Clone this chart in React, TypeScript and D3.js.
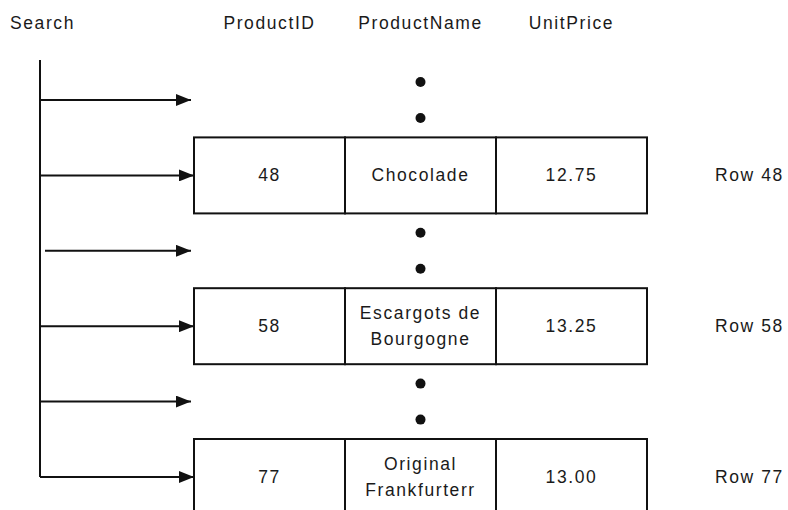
import React from 'react';
import * as d3 from 'd3';

// table columns and rows shown in the index diagram
const columns = ['ProductID', 'ProductName', 'UnitPrice'];
const productIds = ['48', '58', '77'];
const productNames = [['Chocolade'], ['Escargots de', 'Bourgogne'], ['Original', 'Frankfurterr']];
const unitPrices = ['12.75', '13.25', '13.00'];
const rowLabels = ['Row 48', 'Row 58', 'Row 77'];
// search slots: gaps (dots) alternate with matched rows
const slots = [0, 1, 2, 3, 4, 5];
const rowSlots = [1, 3, 5];
const gapSlots = [0, 2, 4];

const W = 788;
const H = 510;
const FONT = '"Liberation Sans", Arial, sans-serif';
const INK = '#111';

const App = () => {
  const y = d3.scaleLinear().domain([0, 5]).range([100, 477]);
  const colEdges = d3.scaleLinear().domain([0, 3]).range([194, 647]);
  const colMid = (i: number) => (colEdges(i) + colEdges(i + 1)) / 2;
  const boxH = 76;
  const spineX = 40;
  const arrowEnd = 194;

  const textStyle = { fontFamily: FONT, fontSize: 17.5, letterSpacing: 1.6, fill: '#1a1a1a' };

  const multiline = (lines: string[], cx: number, cy: number, key: string) => {
    const lh = 26;
    const first = cy + 6 - ((lines.length - 1) * lh) / 2;
    return (
      <text key={key} x={cx} textAnchor="middle" style={textStyle}>
        {lines.map((l, j) => (
          <tspan key={j} x={cx} y={first + j * lh}>{l}</tspan>
        ))}
      </text>
    );
  };

  return (
    <div style={{ position: 'fixed', left: 0, top: 0 }}>
      <svg width={W} height={H} style={{ display: 'block', background: '#fff' }}>
        <defs>
          <marker id="head" viewBox="0 0 15 12" refX="15" refY="6" markerWidth="15" markerHeight="12"
            markerUnits="userSpaceOnUse" orient="auto">
            <path d="M0,0 L15,6 L0,12 Z" fill={INK} />
          </marker>
        </defs>

        <text x={10} y={29} style={textStyle}>Search</text>
        {columns.map((c, i) => (
          <text key={c} x={colMid(i)} y={29} textAnchor="middle" style={textStyle}>{c}</text>
        ))}

        <line x1={spineX} x2={spineX} y1={60} y2={y(5)} stroke={INK} strokeWidth={2} />
        {slots.map((s) => (
          <line key={s} x1={s === 2 ? spineX + 5 : spineX} x2={rowSlots.includes(s) ? arrowEnd : arrowEnd - 3}
            y1={y(s)} y2={y(s)} stroke={INK} strokeWidth={2} markerEnd="url(#head)" />
        ))}

        {gapSlots.map((s) => (
          <g key={s}>
            <circle cx={colMid(1)} cy={y(s) - 18} r={5} fill={INK} />
            <circle cx={colMid(1)} cy={y(s) + 18} r={5} fill={INK} />
          </g>
        ))}

        {rowSlots.map((s, i) => {
          const top = y(s) - boxH / 2;
          return (
            <g key={s}>
              {columns.map((c, k) => (
                <rect key={c} x={colEdges(k)} y={top} width={colEdges(k + 1) - colEdges(k)} height={boxH}
                  fill="none" stroke={INK} strokeWidth={2} />
              ))}
              <text x={colMid(0)} y={y(s) + 6} textAnchor="middle" style={textStyle}>{productIds[i]}</text>
              {multiline(productNames[i], colMid(1), y(s), 'n' + i)}
              <text x={colMid(2)} y={y(s) + 6} textAnchor="middle" style={textStyle}>{unitPrices[i]}</text>
              <text x={715} y={y(s) + 6} style={textStyle}>{rowLabels[i]}</text>
            </g>
          );
        })}
      </svg>
    </div>
  );
};

export default App;
